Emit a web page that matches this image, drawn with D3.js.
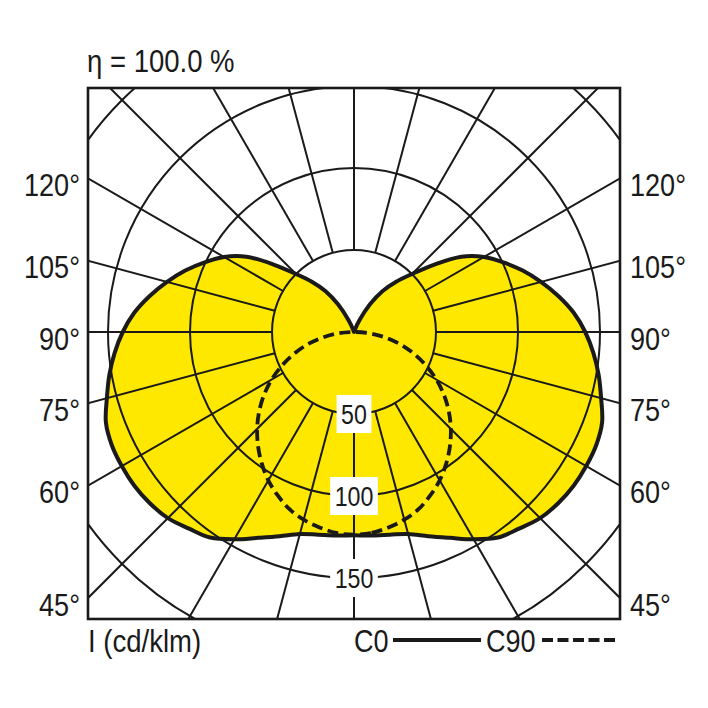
<!DOCTYPE html>
<html><head><meta charset="utf-8">
<script src="https://cdn.jsdelivr.net/npm/d3@7"></script>
<style>
body{margin:0;background:#fff}
svg{display:block}
text{font-family:"Liberation Sans",Arial,sans-serif;fill:#1a1a1a}
</style>
</head><body>
<svg id="chart" width="708" height="708"></svg>
<script>
// ---- data (cd/klm) ----
const gammaDeg = [0,5,10,15,20,25,30,35,40,45,50,55,60,65,70,75,80,85,90,95,100,105,110,115,120,125,130,135,140,145,150,155,160,165,170,175,180];
const c0Values = [124,124.5,125.5,127.5,132.5,138.5,146,153,156.5,160.5,162.5,163.5,163.5,163,161,156,151.5,146.5,141,134.5,126.5,118,109.5,100.5,91.5,80,64,50,40,30.5,19.5,8,1,0,0,0,0];
const c90Values = [123.5,123,121,118.5,115,110,104.5,98,91,83.5,75.5,67,58,48.5,39,29.5,19.5,10,0,0,0,0,0,0,0,0,0,0,0,0,0,0,0,0,0,0,0];
const ringValues = [50,100,150,200];
const ringLabels = [50,100,150];
const spokeDeg = [0,15,30,45,60,75,90,105,120,135,150,165,180,195,210,225,240,255,270,285,300,315,330,345];
const sideLabels = [45,60,75,90,105,120];
const title = "η = 100.0 %";
const unitLabel = "I (cd/klm)";
const legendNames = ["C0","C90"];

// ---- layout ----
const svg = d3.select("#chart");
const box = {x0:88, x1:620, y0:88, y1:619};
const cx = 354, cy = 332;
const r = d3.scaleLinear().domain([0,200]).range([0,328]);
const ink = "#1a1a1a";
const toRad = d => d*Math.PI/180;
const SX = 0.86; // condensed look

function addText(parent, x, y, str, size, anchor){
  const gg = parent.append("g").attr("transform",`translate(${x},${y}) scale(${SX},1)`);
  const t = gg.append("text").attr("text-anchor",anchor||"start")
    .style("font-size",size+"px").text(str);
  return {g:gg, t:t};
}

svg.append("defs").append("clipPath").attr("id","clip")
  .append("rect").attr("x",box.x0).attr("y",box.y0)
  .attr("width",box.x1-box.x0).attr("height",box.y1-box.y0);

const clipG = svg.append("g").attr("clip-path","url(#clip)")
  .append("g").attr("transform",`translate(${cx},${cy})`);

function loopPoints(vals){
  const pts = [];
  let last = 0;
  vals.forEach((v,i)=>{ if(v>0) last=i; });
  for(let i=0;i<=last;i++) pts.push({a:Math.PI-toRad(gammaDeg[i]), v:vals[i]});
  pts.push({a:0, v:0});
  for(let i=last;i>=1;i--) pts.push({a:Math.PI+toRad(gammaDeg[i]), v:vals[i]});
  return pts;
}
const radial = d3.lineRadial().angle(d=>d.a).radius(d=>r(d.v)).curve(d3.curveCatmullRomClosed.alpha(0.5));

const c0Pts = loopPoints(c0Values);
clipG.append("path").attr("d",radial(c0Pts)).attr("fill","#ffe800").attr("stroke","none");

clipG.selectAll("circle.ring").data(ringValues).join("circle")
  .attr("class","ring")
  .attr("r",d=>r(d)).attr("fill","none").attr("stroke",ink).attr("stroke-width",2);

clipG.selectAll("line.spoke").data(spokeDeg).join("line")
  .attr("class","spoke")
  .attr("x1",d=>Math.sin(toRad(d))*r(50)).attr("y1",d=>Math.cos(toRad(d))*r(50))
  .attr("x2",d=>Math.sin(toRad(d))*r(300)).attr("y2",d=>Math.cos(toRad(d))*r(300))
  .attr("stroke",ink).attr("stroke-width",2);

clipG.append("path").attr("d",radial(c0Pts)).attr("fill","none")
  .attr("stroke",ink).attr("stroke-width",4).attr("stroke-linejoin","round");

const c90Pts = loopPoints(c90Values);
clipG.append("path").attr("d",radial(c90Pts)).attr("fill","none")
  .attr("stroke",ink).attr("stroke-width",3.8).attr("stroke-dasharray","11,5.5");

svg.append("rect").attr("x",box.x0).attr("y",box.y0)
  .attr("width",box.x1-box.x0).attr("height",box.y1-box.y0)
  .attr("fill","none").attr("stroke",ink).attr("stroke-width",2.6);

// ring labels with white backgrounds (drawn on top)
const lblG = svg.append("g").attr("transform",`translate(${cx},${cy})`);
ringLabels.forEach(v=>{
  const lg = lblG.append("g").attr("transform",`translate(0,${r(v)})`);
  const bg = lg.append("rect").attr("fill","#fff");
  const o = addText(lg, 0, 10, v, 27, "middle");
  const bb = o.t.node().getBBox();
  const w = bb.width*SX;
  bg.attr("x",-w/2-4.5).attr("y",-19).attr("width",w+9).attr("height",38);
});

// side angle labels
const halfW = cx - box.x0;
sideLabels.forEach(a=>{
  const y = cy + halfW*Math.cos(toRad(a))/Math.sin(toRad(a));
  addText(svg, 80, y+17.5, a+"°", 31.5, "end");
  addText(svg, 630, y+17.5, a+"°", 31.5, "start");
});

addText(svg, 87, 72, title, 32, "start");
addText(svg, 88, 652, unitLabel, 32, "start");

addText(svg, 354, 652, legendNames[0], 31.5, "start");
svg.append("line").attr("x1",393).attr("x2",481).attr("y1",640).attr("y2",640)
  .attr("stroke",ink).attr("stroke-width",3.8);
addText(svg, 486, 652, legendNames[1], 31.5, "start");
svg.append("line").attr("x1",542).attr("x2",617).attr("y1",640).attr("y2",640)
  .attr("stroke",ink).attr("stroke-width",3.8).attr("stroke-dasharray","11,4.5");
</script>
</body></html>
